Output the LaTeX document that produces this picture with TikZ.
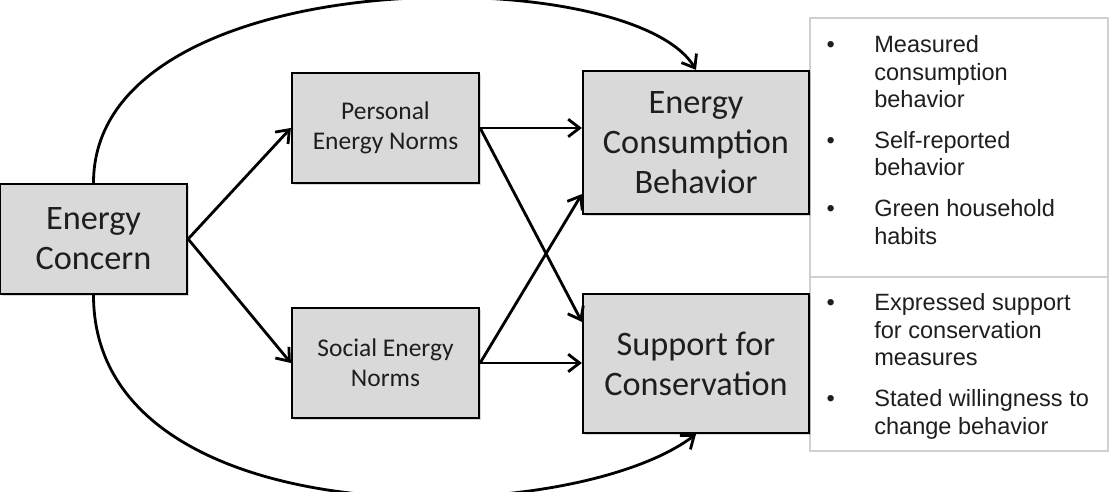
\documentclass[tikz,border=0pt]{standalone}
\usepackage{fontspec}
\setmainfont{Carlito}
\newfontfamily\listfont{Liberation Sans}
\usetikzlibrary{arrows.meta,positioning,calc,shadows}
\definecolor{BoxGray}{RGB}{217,217,217}
\definecolor{ListEdge}{RGB}{208,208,208}
\definecolor{InkGray}{RGB}{30,30,30}
\tikzset{
  factor/.style={draw=black,fill=BoxGray,line width=1.3pt,align=center,
    text=InkGray,inner sep=0pt,
    drop shadow={shadow xshift=0.9pt,shadow yshift=-0.9pt,opacity=0.3}},
  bigfactor/.style={factor,font=\fontsize{19.5}{22.8}\selectfont},
  smallfactor/.style={factor,font=\fontsize{14.5}{17}\selectfont,
    minimum width=3.74cm,minimum height=2.2cm},
  measures/.style={draw=ListEdge,line width=0.8pt,fill=white,inner sep=0pt,
    text=InkGray,minimum width=5.96cm,font=\listfont\fontsize{13.4}{15.6}\selectfont},
  link/.style={-{Straight Barb[length=6.5pt,width=10pt]},line width=1.6pt}
}

\begin{document}
\begin{tikzpicture}[x=0.02cm,y=-0.02cm]
  \useasboundingbox (0,0) rectangle (1117,492);
  % measurement lists
  \node[measures,minimum height=5.18cm] (list1) at (959,147.5) {%
    \begin{tabular}{@{}p{27.2pt}@{}p{123.6pt}@{}}
      \textbullet & Measured\\ & consumption\\ & behavior\\[7.7pt]
      \textbullet & Self-reported\\ & behavior\\[7.7pt]
      \textbullet & Green household\\ & habits\\[5pt]
    \end{tabular}};
  \node[measures,minimum height=3.48cm] (list2) at (959,364) {%
    \begin{tabular}{@{}p{27.2pt}@{}p{123.6pt}@{}}
      \noalign{\vspace{3.4pt}}
      \textbullet & Expressed support\\ & for conservation\\ & measures\\[7.7pt]
      \textbullet & Stated willingness to\\ & change behavior
    \end{tabular}};
  % factors
  \node[bigfactor,minimum width=3.74cm,minimum height=2.2cm] (concern) at (93.5,239) {Energy\\Concern};
  \node[smallfactor] (personal) at (385.5,128) {Personal\\Energy Norms};
  \node[smallfactor] (social) at (385.5,363) {Social Energy\\Norms};
  \node[bigfactor,minimum width=4.52cm,minimum height=2.86cm] (behavior) at (696,142.5) {Energy\\Consumption\\Behavior};
  \node[bigfactor,minimum width=4.52cm,minimum height=2.78cm] (support) at (696,363.5) {Support for\\Conservation};
  % paths
  \draw[link] (concern.east) -- (personal.west);
  \draw[link] (concern.east) -- (social.west);
  \draw[link] (personal.east) -- (personal.east -| behavior.west);
  \draw[link] (social.east) -- (social.east -| support.west);
  \draw[link] (personal.east) -- ($(support.north west)+(0,29)$);
  \draw[link] (social.east) -- ($(behavior.south west)+(0,-21)$);
  \draw[link] (concern.north) .. controls (93.5,-40) and (630,-40) .. (behavior.north);
  \draw[link] (concern.south) .. controls (93.5,540) and (570,530) .. (support.south);
\end{tikzpicture}
\end{document}
